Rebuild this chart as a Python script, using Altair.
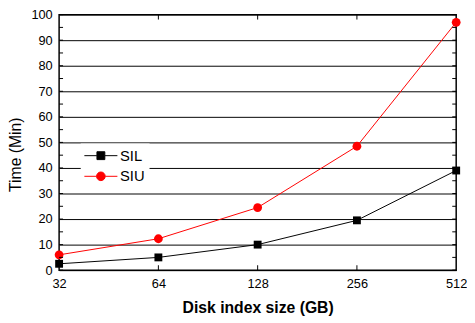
import altair as alt
import pandas as pd

series_names = ["SIL", "SIU"]
disk_sizes = [32, 64, 128, 256, 512]
sil_times = [2.5, 5.0, 10.0, 19.5, 39.0]
siu_times = [6.0, 12.3, 24.5, 48.5, 97.0]
y_tick_values = [0, 10, 20, 30, 40, 50, 60, 70, 80, 90, 100]
y_minor_ticks = [0, 5, 10, 15, 20, 25, 30, 35, 40, 45, 50, 55, 60, 65, 70, 75, 80, 85, 90, 95, 100]
x_inner_ticks = [64, 128, 256]
colors = ["#000000", "#ff0000"]

rows = []
for s, vals in zip(series_names, [sil_times, siu_times]):
    for x, v in zip(disk_sizes, vals):
        rows.append({"size": x, "time": v, "series": s})
df = pd.DataFrame(rows)
ytick_df = pd.DataFrame({"time": y_minor_ticks})
xtick_df = pd.DataFrame({"size": x_inner_ticks})

W, H = 404, 260
FONT = "Liberation Sans"

xscale = alt.Scale(type="log", base=2, domain=[32, 512], nice=False)
yscale = alt.Scale(domain=[0, 100], nice=False)
cscale = alt.Scale(domain=series_names, range=colors)

SQ_PATH = "M-2.1,0H-0.5V-0.5H0.5V0.5H-0.5V0M0.5,0H2.1"
CI_PATH = "M-2.1,0H-0.55A0.55,0.55 0 1,1 0.55,0A0.55,0.55 0 1,1 -0.55,0M0.55,0H2.1"
pscale = alt.Scale(domain=series_names, range=[SQ_PATH, CI_PATH])

legend = alt.Legend(
    orient="none", legendX=22, legendY=131, title=None,
    fillColor="white", padding=4, symbolSize=256, rowPadding=4,
    symbolOffset=8, labelOffset=11, labelFontSize=15, labelFont=FONT,
    labelColor="black", symbolStrokeWidth=1, symbolOpacity=1,
)

x_axis = alt.Axis(
    values=disk_sizes, format="d", title="Disk index size (GB)",
    tickSize=0, domain=False, grid=False, labelFlush=False,
    labelFontSize=13, labelFont=FONT, labelColor="black", labelPadding=8,
    titleFont=FONT, titleFontSize=16, titleFontWeight="bold", titleColor="black",
    titlePadding=9)
y_axis = alt.Axis(
    values=y_tick_values, title="Time (Min)", tickSize=0, domain=False,
    grid=True, gridColor="#000000", gridWidth=1, gridOpacity=1,
    labelFlush=False, labelFontSize=13, labelFont=FONT, labelColor="black",
    labelPadding=7, titleFont=FONT, titleFontSize=16, titleFontWeight="normal",
    titleColor="black", titleX=-36, titleY=142)

X = alt.X("size:Q", scale=xscale, axis=x_axis)
Y = alt.Y("time:Q", scale=yscale, axis=y_axis)

base = alt.Chart(df)

lines = base.mark_line(strokeWidth=1).encode(
    x=X, y=Y,
    stroke=alt.Stroke("series:N", scale=cscale, legend=legend),
)

pts_sil = base.transform_filter("datum.series == 'SIL'").mark_point(
    filled=True, opacity=1, shape="square", size=64).encode(
    x=X, y=Y,
    fill=alt.Fill("series:N", scale=cscale, legend=legend),
)
pts_siu = base.transform_filter("datum.series == 'SIU'").mark_point(
    filled=True, opacity=1, shape="circle", size=80).encode(
    x=X, y=Y,
    fill=alt.Fill("series:N", scale=cscale, legend=legend),
)
legend_layer = base.transform_filter("false").mark_point(filled=True, opacity=1).encode(
    x=X, y=Y,
    fill=alt.Fill("series:N", scale=cscale, legend=legend),
    stroke=alt.Stroke("series:N", scale=cscale, legend=legend),
    shape=alt.Shape("series:N", scale=pscale, legend=legend),
)

ytick_left = alt.Chart(ytick_df).mark_rule(color="black", strokeWidth=1).encode(
    y=Y, x=alt.value(0), x2=alt.value(4))
ytick_right = alt.Chart(ytick_df).mark_rule(color="black", strokeWidth=1).encode(
    y=Y, x=alt.value(W - 4), x2=alt.value(W))
xtick_bottom = alt.Chart(xtick_df).mark_rule(color="black", strokeWidth=1).encode(
    x=X, y=alt.value(H - 5), y2=alt.value(H))
xtick_top = alt.Chart(xtick_df).mark_rule(color="black", strokeWidth=1).encode(
    x=X, y=alt.value(0), y2=alt.value(5))

chart = alt.layer(lines, pts_sil, pts_siu, legend_layer,
                  ytick_left, ytick_right, xtick_bottom, xtick_top).properties(
    width=W, height=H,
    background="white",
    padding={"left": 52, "top": 4, "right": 11, "bottom": 51},
    autosize=alt.AutoSizeParams(type="none"),
).configure_view(stroke="black", strokeWidth=1.5)

chart.save("out.html", embed_options={"renderer": "svg", "actions": False})
